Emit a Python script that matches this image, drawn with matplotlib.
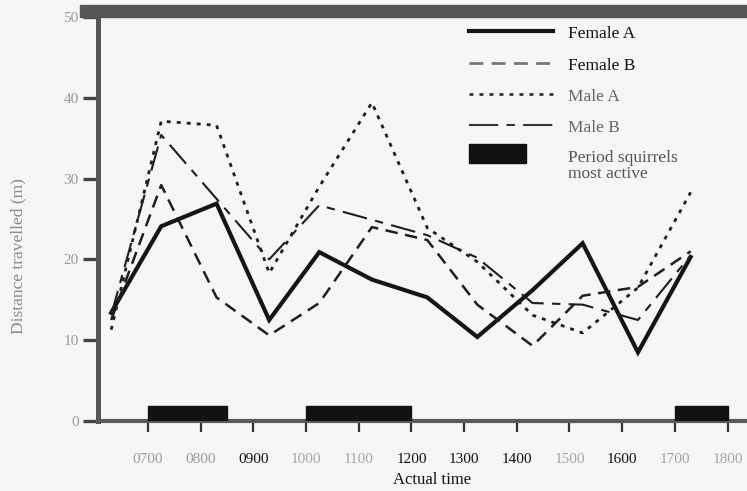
import matplotlib
matplotlib.use("Agg")
import matplotlib.pyplot as plt
import matplotlib.patches as mpatches
from matplotlib.lines import Line2D
from matplotlib.legend_handler import HandlerPatch
import numpy as np

# hour of each observation (decimal hours)
hours = [6.3, 7.25, 8.3, 9.3, 10.25, 11.25, 12.3, 13.25, 14.3, 15.25, 16.3, 17.3]

female_a = [13.4, 24.1, 26.9, 12.5, 20.9, 17.5, 15.3, 10.4, 16.2, 22.0, 8.5, 20.3]
female_b = [12.5, 29.2, 15.3, 10.6, 14.6, 24.0, 22.4, 14.4, 9.3, 15.5, 16.6, 21.0]
male_a = [11.3, 37.1, 36.6, 18.3, 29.0, 39.4, 23.9, 19.7, 13.1, 10.9, 16.5, 28.3]
male_b = [13.1, 35.4, 27.5, 20.0, 26.7, 24.9, 23.0, 20.2, 14.6, 14.4, 12.5, 20.5]

# periods squirrels most active
active_start = [7.0, 10.0, 17.0]
active_end = [8.5, 12.0, 18.0]
active_height = 1.8

tick_hours = [7, 8, 9, 10, 11, 12, 13, 14, 15, 16, 17, 18]
tick_labels = ["0700", "0800", "0900", "1000", "1100", "1200",
               "1300", "1400", "1500", "1600", "1700", "1800"]
# scanned print: some labels came out faint
tick_colors = ["#9a9a9a", "#9a9a9a", "#111111", "#a5a5a5", "#a5a5a5", "#111111",
               "#111111", "#111111", "#a5a5a5", "#111111", "#a5a5a5", "#a5a5a5"]
y_ticks = [0, 10, 20, 30, 40, 50]

plt.rcParams["font.family"] = ["Liberation Serif", "DejaVu Serif"]

W, H = 747, 491
fig = plt.figure(figsize=(W / 100, H / 100), dpi=100, facecolor="#f6f6f6")
ax = fig.add_axes([98 / W, (H - 421) / H, 649 / W, 404 / H])
ax.set_facecolor("#f6f6f6")

# thick band along the top of the scan
fig.patches.append(mpatches.Rectangle((80 / W, (H - 17) / H), (W - 80) / W, 12 / H,
                                      transform=fig.transFigure, color="#555555", zorder=5))

ax.plot(hours, female_a, color="#151515", lw=3.0, solid_joinstyle="miter", label="Female A")
ax.plot(hours, female_b, color="#1e1e1e", lw=1.8, linestyle=(0, (5, 3)), label="Female B")
ax.plot(hours, male_a, color="#1e1e1e", lw=2.0, linestyle=(0, (1.4, 2.2)), label="Male A")
ax.plot(hours, male_b, color="#1e1e1e", lw=1.5, linestyle=(0, (12, 4, 4, 4)), label="Male B")

widths = np.array(active_end) - np.array(active_start)
ax.bar(active_start, active_height, width=widths, align="edge", bottom=0,
       color="#111111", edgecolor="#111111", zorder=3)

ax.set_xlim(6.05, 18.37)
ax.set_ylim(0, 50)

for side in ["top", "right"]:
    ax.spines[side].set_visible(False)
ax.spines["left"].set_color("#555555")
ax.spines["left"].set_linewidth(3.6)
ax.spines["bottom"].set_color("#5a5a5a")
ax.spines["bottom"].set_linewidth(3.0)

ax.set_xticks(tick_hours)
ax.set_xticklabels(tick_labels, fontsize=11)
for lbl, c in zip(ax.get_xticklabels(), tick_colors):
    lbl.set_color(c)
ax.tick_params(axis="x", direction="out", length=8, width=1.6, color="#333333", pad=15)

ax.set_yticks(y_ticks)
ax.set_yticklabels([str(v) for v in y_ticks], fontsize=11, color="#9a9a9a")
ax.tick_params(axis="y", direction="out", length=11, width=2.4, color="#444444", pad=3)

ax.set_xlabel("Actual time", fontsize=12, color="#111111")
ax.xaxis.set_label_coords(0.515, -0.125)
ax.set_ylabel("Distance travelled (m)", fontsize=12.5, color="#8a8a8a")
ax.yaxis.set_label_coords(-0.11, 0.408)


def small_box(legend, orig_handle, xdescent, ydescent, width, height, fontsize):
    # the key box in the printed legend is shorter than the line samples
    # and sits level with the first line of its two-line label
    return mpatches.Rectangle((-xdescent, -ydescent + 0.7 * height), 0.68 * width, 1.2 * height)


handles = [
    Line2D([], [], color="#151515", lw=3.0),
    Line2D([], [], color="#777777", lw=2.0, linestyle=(0, (5, 3))),
    Line2D([], [], color="#333333", lw=2.0, linestyle=(0, (1.4, 2.2))),
    Line2D([], [], color="#333333", lw=1.5, linestyle=(0, (14, 4, 4, 4))),
    mpatches.Patch(facecolor="#111111", edgecolor="#111111"),
]
labels = ["Female A", "Female B", "Male A", "Male B", "Period squirrels\nmost active"]
leg = ax.legend(handles, labels, loc="upper left", bbox_to_anchor=(0.548, 1.02),
                frameon=False, fontsize=12.5, handlelength=4.8, handleheight=1.0,
                handletextpad=0.9, labelspacing=0.78,
                handler_map={mpatches.Patch: HandlerPatch(patch_func=small_box)})
for txt, c in zip(leg.get_texts(), ["#111111", "#111111", "#666666", "#666666", "#555555"]):
    txt.set_color(c)
    txt.set_linespacing(1.0)

fig.savefig("out.png", dpi=100, facecolor=fig.get_facecolor())
